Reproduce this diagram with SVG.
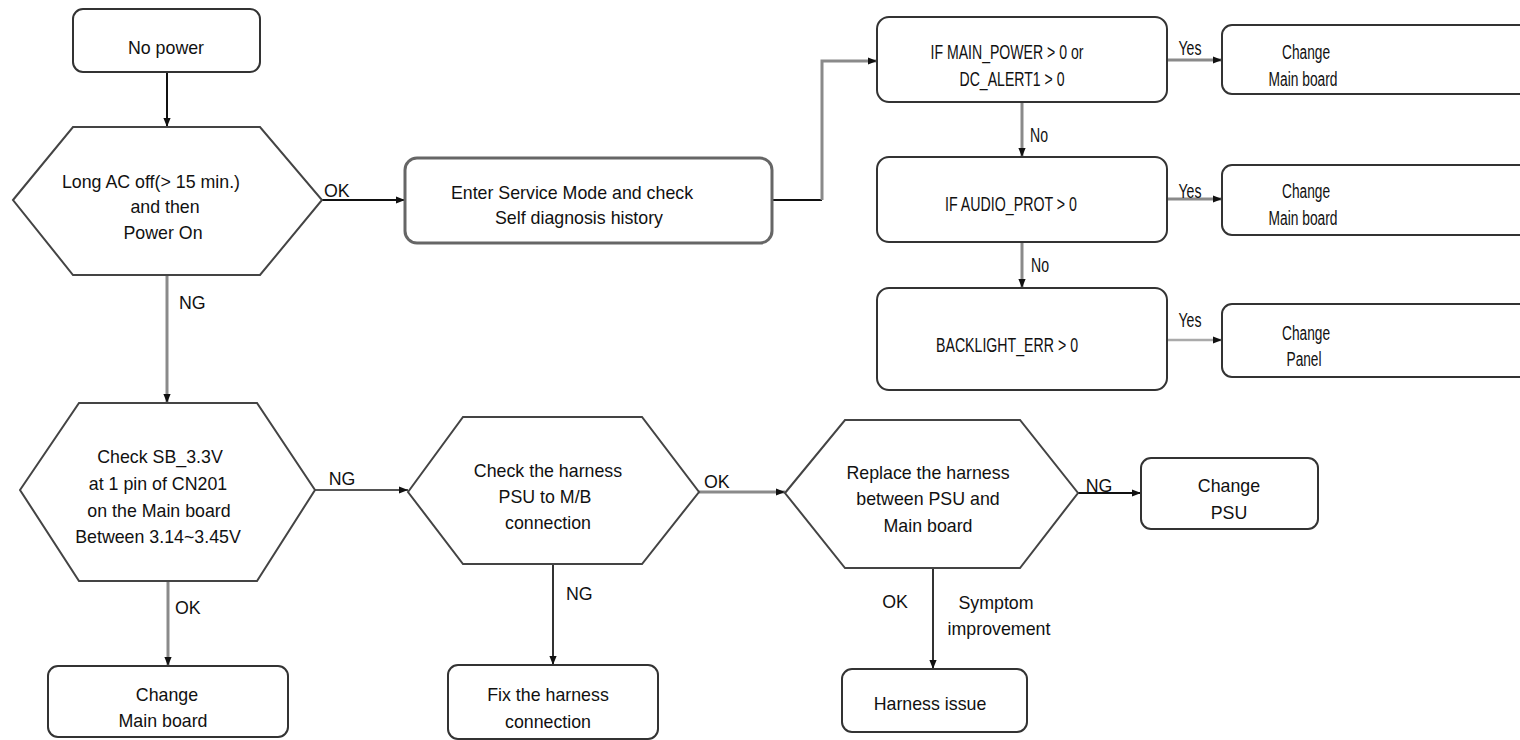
<svg xmlns="http://www.w3.org/2000/svg" width="1520" height="740" viewBox="0 0 1520 740">
<style>
text{font-family:"Liberation Sans",Arial,sans-serif;font-size:17.8px;fill:#111;text-anchor:middle}
.c{font-size:19.5px}
.l{text-anchor:start}
.box{fill:#fff;stroke:#333;stroke-width:2}
.hex{fill:#fff;stroke:#444;stroke-width:2;stroke-linejoin:miter}
.k{fill:none;stroke:#111;stroke-width:2}
.g{fill:none;stroke:#8a8a8a;stroke-width:3}
.lg{fill:none;stroke:#aaa;stroke-width:2.5}
</style>
<defs>
<marker id="ah" viewBox="0 0 10 10" refX="10" refY="5" markerWidth="9" markerHeight="9" markerUnits="userSpaceOnUse" orient="auto">
<path d="M0,1 L10,5 L0,9 z" fill="#111"/>
</marker>
</defs>
<rect width="1520" height="740" fill="#fff"/>
<g id="connectors">
<path class="k" d="M167,72 V127" marker-end="url(#ah)"/>
<path class="k" d="M322,200 H405" marker-end="url(#ah)"/>
<path class="g" d="M167,275 V403" marker-end="url(#ah)"/>
<path class="k" d="M772,200 H822"/>
<path class="g" d="M822,200 V61 H877" marker-end="url(#ah)"/>
<path class="g" d="M1167,60 H1222" marker-end="url(#ah)"/>
<path class="g" d="M1022,102 V157" marker-end="url(#ah)"/>
<path class="g" d="M1167,199 H1222" marker-end="url(#ah)"/>
<path class="g" d="M1022,242 V288" marker-end="url(#ah)"/>
<path class="lg" d="M1167,340 H1222" marker-end="url(#ah)"/>
<path class="k" style="stroke:#555" d="M315,490 H408" marker-end="url(#ah)"/>
<path class="g" d="M168,581 V666" marker-end="url(#ah)"/>
<path class="k" style="stroke:#333" d="M553,564 V665" marker-end="url(#ah)"/>
<path class="g" d="M699,492 H785" marker-end="url(#ah)"/>
<path class="k" d="M1078,493 H1141" marker-end="url(#ah)"/>
<path class="k" style="stroke:#333" d="M933,568 V669" marker-end="url(#ah)"/>
</g>
<g id="n_nopower"><rect class="box" x="73" y="9" width="187" height="63" rx="10"/><text x="166" y="54">No power</text></g>
<g id="n_longac"><polygon class="hex" points="13,200 73,127 260,127 322,200 260,275 73,275"/>
<text x="151" y="188">Long AC off(&gt; 15 min.)</text><text x="165" y="213">and then</text><text x="163" y="239">Power On</text></g>
<g id="n_service"><rect class="box" style="stroke:#666;stroke-width:3" x="405" y="158" width="367" height="85" rx="12"/>
<text x="572" y="199">Enter Service Mode and check</text><text x="579" y="224">Self diagnosis history</text></g>
<g id="n_mainpower"><rect class="box" x="877" y="17" width="290" height="85" rx="12"/>
<text class="c" x="1007" y="59" textLength="153" lengthAdjust="spacingAndGlyphs">IF MAIN_POWER &gt; 0 or</text>
<text class="c" x="1012" y="86" textLength="105" lengthAdjust="spacingAndGlyphs">DC_ALERT1 &gt; 0</text></g>
<g id="n_mb1"><rect class="box" x="1222" y="25" width="320" height="69" rx="10"/>
<text class="c" x="1306" y="59" textLength="48" lengthAdjust="spacingAndGlyphs">Change</text>
<text class="c" x="1303" y="86" textLength="69" lengthAdjust="spacingAndGlyphs">Main board</text></g>
<g id="n_audio"><rect class="box" x="877" y="157" width="290" height="85" rx="12"/>
<text class="c" x="1011" y="211" textLength="132" lengthAdjust="spacingAndGlyphs">IF AUDIO_PROT &gt; 0</text></g>
<g id="n_mb2"><rect class="box" x="1222" y="165" width="320" height="70" rx="10"/>
<text class="c" x="1306" y="198" textLength="48" lengthAdjust="spacingAndGlyphs">Change</text>
<text class="c" x="1303" y="225" textLength="69" lengthAdjust="spacingAndGlyphs">Main board</text></g>
<g id="n_backlight"><rect class="box" x="877" y="288" width="290" height="102" rx="12"/>
<text class="c" x="1007" y="352" textLength="142" lengthAdjust="spacingAndGlyphs">BACKLIGHT_ERR &gt; 0</text></g>
<g id="n_panel"><rect class="box" x="1222" y="304" width="320" height="73" rx="10"/>
<text class="c" x="1306" y="340" textLength="48" lengthAdjust="spacingAndGlyphs">Change</text>
<text class="c" x="1304" y="366" textLength="35" lengthAdjust="spacingAndGlyphs">Panel</text></g>
<g id="n_sb33"><polygon class="hex" points="20,490 79,403 257,403 315,490 257,581 79,581"/>
<text x="160" y="463">Check SB_3.3V</text><text x="158" y="490">at 1 pin of CN201</text><text x="159" y="517">on the Main board</text><text x="158" y="543">Between 3.14~3.45V</text></g>
<g id="n_mb3"><rect class="box" x="48" y="666" width="240" height="71" rx="10"/>
<text x="167" y="701">Change</text><text x="163" y="727">Main board</text></g>
<g id="n_harness"><polygon class="hex" points="408,492 463,417 642,417 699,492 642,564 463,564"/>
<text x="548" y="477">Check the harness</text><text x="545" y="503">PSU to M/B</text><text x="548" y="529">connection</text></g>
<g id="n_fix"><rect class="box" x="448" y="665" width="210" height="74" rx="10"/>
<text x="548" y="701">Fix the harness</text><text x="548" y="728">connection</text></g>
<g id="n_replace"><polygon class="hex" points="785,493 845,420 1020,420 1078,493 1020,568 845,568"/>
<text x="928" y="479">Replace the harness</text><text x="928" y="505">between PSU and</text><text x="928" y="532">Main board</text></g>
<g id="n_psu"><rect class="box" x="1141" y="458" width="177" height="71" rx="10"/>
<text x="1229" y="492">Change</text><text x="1229" y="519">PSU</text></g>
<g id="n_issue"><rect class="box" x="842" y="669" width="185" height="63" rx="10"/>
<text x="930" y="710">Harness issue</text></g>
<g id="labels">
<text class="l" x="324" y="197">OK</text>
<text class="l" x="179" y="309">NG</text>
<text class="c" x="1190" y="55" textLength="23" lengthAdjust="spacingAndGlyphs">Yes</text>
<text class="c l" x="1030" y="142" textLength="18" lengthAdjust="spacingAndGlyphs">No</text>
<text class="c" x="1190" y="198" textLength="23" lengthAdjust="spacingAndGlyphs">Yes</text>
<text class="c l" x="1031" y="272" textLength="18" lengthAdjust="spacingAndGlyphs">No</text>
<text class="c" x="1190" y="327" textLength="23" lengthAdjust="spacingAndGlyphs">Yes</text>
<text x="342" y="485">NG</text>
<text class="l" x="175" y="614">OK</text>
<text class="l" x="566" y="600">NG</text>
<text class="l" x="704" y="488">OK</text>
<text x="1099" y="492">NG</text>
<text x="895" y="608">OK</text>
<text x="996" y="609">Symptom</text>
<text x="999" y="635">improvement</text>
</g>
</svg>
